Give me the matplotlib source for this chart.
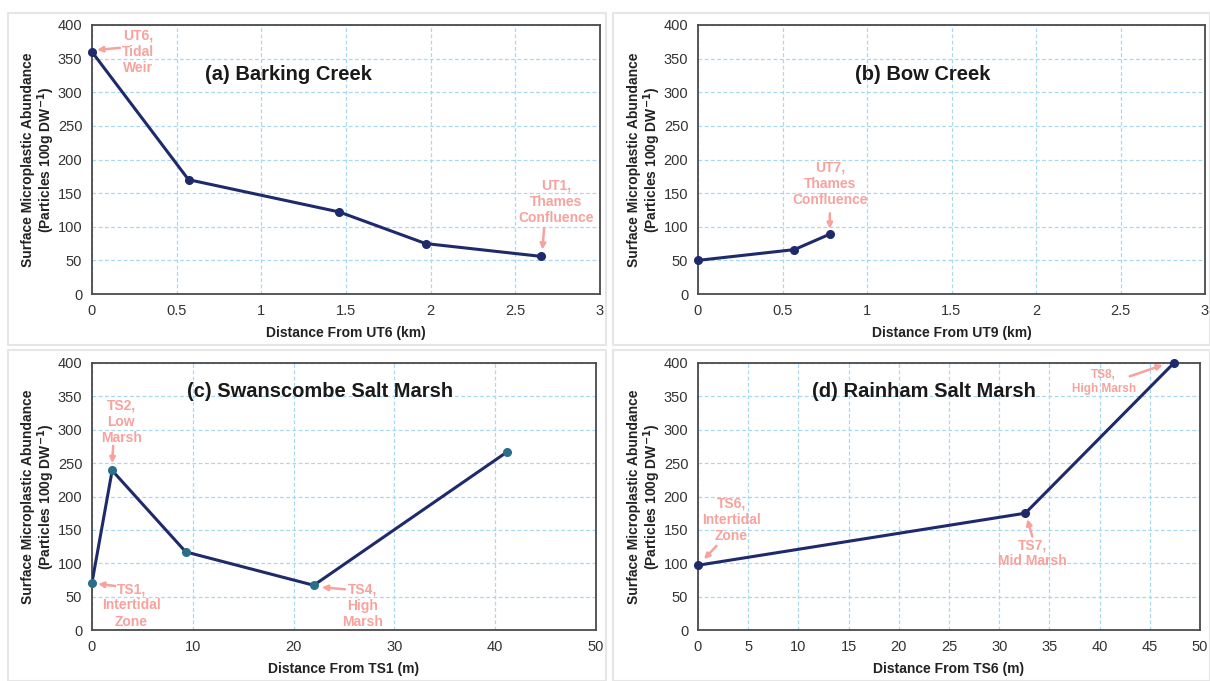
import matplotlib
matplotlib.use("Agg")
import matplotlib.pyplot as plt
from matplotlib.lines import Line2D

plt.rcParams['font.family'] = ['Liberation Sans', 'DejaVu Sans']

# ---------------- data ----------------
a_x = [0, 0.57, 1.46, 1.97, 2.65]
a_y = [360, 170, 122, 75, 56]
b_x = [0, 0.57, 0.78]
b_y = [50, 66, 89]
c_x = [0, 2.0, 9.3, 22.0, 41.2]
c_y = [71, 239, 117, 67, 267]
d_x = [0, 32.6, 47.4]
d_y = [97, 175, 400]

km_ticks = [0, 0.5, 1, 1.5, 2, 2.5, 3]
km_labels = ['0', '0.5', '1', '1.5', '2', '2.5', '3']
c_ticks = [0, 10, 20, 30, 40, 50]
d_ticks = [0, 5, 10, 15, 20, 25, 30, 35, 40, 45, 50]
y_ticks = [0, 50, 100, 150, 200, 250, 300, 350, 400]

titles = ['(a) Barking Creek', '(b) Bow Creek', '(c) Swanscombe Salt Marsh', '(d) Rainham Salt Marsh']
xlabels = ['Distance From UT6 (km)', 'Distance From UT9 (km)', 'Distance From TS1 (m)', 'Distance From TS6 (m)']
ylabel = 'Surface Microplastic Abundance\n(Particles 100g DW$^{\\mathbf{-1}}$)'

# annotations: (text, text_xy, arrow_tail, arrow_head)
a_notes = [("UT6,\nTidal\nWeir", (0.27, 360), (0.165, 366), (0.03, 363)),
           ("UT1,\nThames\nConfluence", (2.74, 137), (2.67, 98), (2.66, 66))]
b_notes = [("UT7,\nThames\nConfluence", (0.78, 164), (0.78, 120), (0.78, 97))]
c_notes = [("TS2,\nLow\nMarsh", (2.9, 312), (2.1, 276), (2.0, 250)),
           ("TS1,\nIntertidal\nZone", (3.9, 37), (2.3, 66), (0.6, 69)),
           ("TS4,\nHigh\nMarsh", (26.8, 36), (25.1, 61), (22.8, 64))]
d_notes = [("TS6,\nIntertidal\nZone", (3.3, 165), (1.84, 126), (0.6, 106)),
           ("TS7,\nMid Marsh", (33.3, 115), (33.3, 140), (32.8, 166)),
           ("TS8,\nHigh Marsh", (40.4, 371), (43.0, 380), (46.3, 397))]

# ---------------- style ----------------
NAVY = '#1f2a6b'
TEAL = '#2a6f8a'
PINK = '#f7a29d'
GRID = '#a8d8f0'

fig = plt.figure(figsize=(12.1, 6.81), dpi=100)
fig.patch.set_facecolor('white')

# light panel frames
for (x0, y0, x1, y1) in [(8, 13, 606, 345), (613, 13, 1210, 345),
                         (8, 350, 606, 681), (613, 350, 1210, 681)]:
    W, H = 1210, 681
    xs = [x0 / W, x1 / W, x1 / W, x0 / W, x0 / W]
    ys = [1 - y0 / H, 1 - y0 / H, 1 - y1 / H, 1 - y1 / H, 1 - y0 / H]
    fig.add_artist(Line2D(xs, ys, color='#e6e6e6', lw=1.5))

positions = [
    [92 / 1210, 1 - 294 / 681, 508 / 1210, 269 / 681],
    [698 / 1210, 1 - 294 / 681, 507 / 1210, 269 / 681],
    [92 / 1210, 1 - 630 / 681, 504 / 1210, 267 / 681],
    [698 / 1210, 1 - 630 / 681, 502 / 1210, 267 / 681],
]
series = [(a_x, a_y), (b_x, b_y), (c_x, c_y), (d_x, d_y)]
xticks = [(km_ticks, km_labels), (km_ticks, km_labels),
          (c_ticks, [str(t) for t in c_ticks]), (d_ticks, [str(t) for t in d_ticks])]
xlims = [(0, 3), (0, 3), (0, 50), (0, 50)]
title_pos = [(1.16, 326), (1.33, 326), (22.6, 357), (22.5, 358)]
notes = [a_notes, b_notes, c_notes, d_notes]
mcolors = [NAVY, NAVY, TEAL, NAVY]

for i in range(4):
    ax = fig.add_axes(positions[i])
    xs, ys = series[i]
    ax.plot(xs, ys, color=NAVY, lw=2.2, zorder=3)
    ax.plot(xs, ys, 'o', color=mcolors[i], ms=5.5, zorder=4, clip_on=False)
    ax.set_xlim(*xlims[i])
    ax.set_ylim(0, 400)
    ax.set_xticks(xticks[i][0])
    ax.set_xticklabels(xticks[i][1])
    ax.set_yticks(y_ticks)
    ax.grid(True, color=GRID, ls=(0, (3, 2)), lw=0.9)
    ax.set_axisbelow(True)
    ax.tick_params(length=0, labelsize=10.5, labelcolor='#333333', pad=7)
    for s in ax.spines.values():
        s.set_color('#4a4a4a')
        s.set_linewidth(1.3)
    ax.set_xlabel(xlabels[i], fontsize=10, fontweight='bold', color='#222222', labelpad=6)
    ax.set_ylabel(ylabel, fontsize=10, fontweight='bold', color='#222222',
                  linespacing=1.05)
    pw = positions[i][2] * 1210
    ax.yaxis.set_label_coords(-35 / pw, 0.5)
    tx, ty = title_pos[i]
    ax.text(tx, ty, titles[i], fontsize=14.5, fontweight='bold', color='#1a1a1a',
            ha='center', va='center')
    for (txt, txy, tail, head) in notes[i]:
        small = (i == 3 and txt.startswith('TS8'))
        ax.text(txy[0], txy[1], txt, fontsize=8.5 if small else 10,
                fontweight='bold', color=PINK, ha='center', va='center',
                linespacing=1.2)
        ax.annotate('', xy=head, xytext=tail,
                    arrowprops=dict(arrowstyle='-|>', color=PINK, lw=1.8,
                                    mutation_scale=8, shrinkA=0, shrinkB=0))

fig.savefig('out.png', dpi=100)
